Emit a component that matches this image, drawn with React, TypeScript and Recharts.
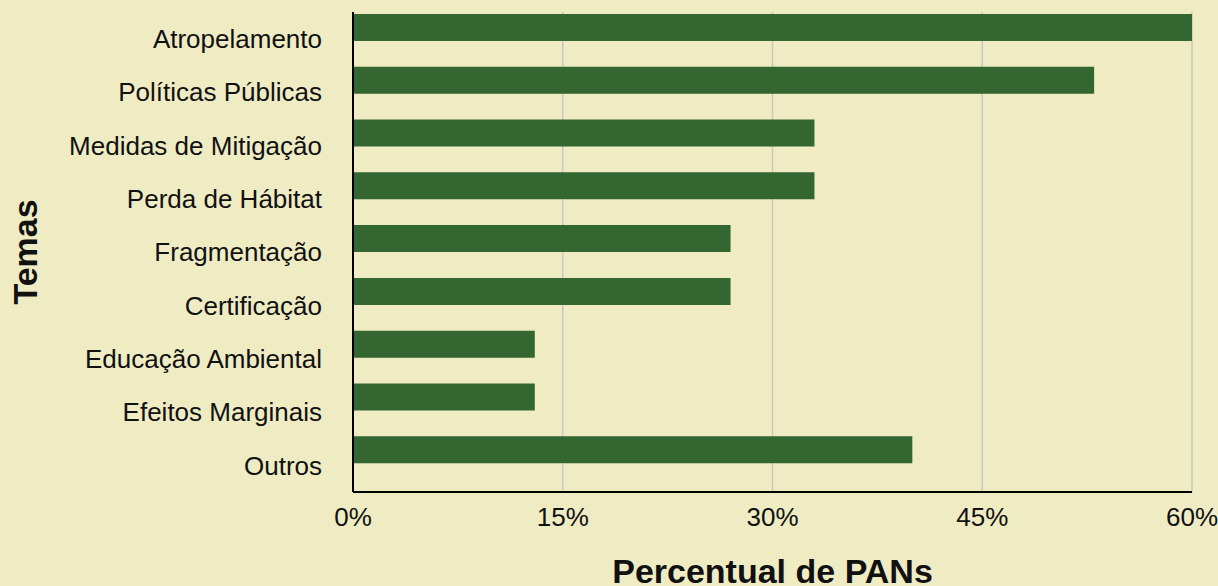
import React from 'react';
import { BarChart, Bar, XAxis, YAxis, CartesianGrid } from 'recharts';

const temas = [
  'Atropelamento',
  'Políticas Públicas',
  'Medidas de Mitigação',
  'Perda de Hábitat',
  'Fragmentação',
  'Certificação',
  'Educação Ambiental',
  'Efeitos Marginais',
  'Outros',
];
const percentuais = [60, 53, 33, 33, 27, 27, 13, 13, 40];
const xTicks = [0, 15, 30, 45, 60];

const data = temas.map((tema, i) => ({ tema, valor: percentuais[i] }));

const FONT = '"Liberation Sans", Arial, Helvetica, sans-serif';
const BG = '#efecc4';
const BAR = '#336630';

export default function App() {
  return (
    <div style={{ position: 'absolute', left: 0, top: 0, width: 1218, height: 586, background: BG, fontFamily: FONT }}>
      <BarChart
        width={1218}
        height={586}
        data={data}
        layout="vertical"
        margin={{ top: 12, right: 26, bottom: 0, left: 0 }}
      >
        <CartesianGrid horizontal={false} stroke="#c9c8bc" strokeWidth={1.5} yAxisId="labels" />
        <XAxis
          type="number"
          domain={[0, 60]}
          ticks={xTicks}
          tickFormatter={(v: number) => `${v}%`}
          height={94}
          tickLine={false}
          tickSize={0}
          tickMargin={16}
          axisLine={{ stroke: '#000', strokeWidth: 2 }}
          tick={{ fill: '#111', fontSize: 26, fontFamily: FONT }}
          label={{
            value: 'Percentual de PANs',
            position: 'insideBottom',
            offset: 3,
            style: { fill: '#111', fontSize: 34, fontWeight: 'bold', fontFamily: FONT },
          }}
        />
        <YAxis
          yAxisId="labels"
          type="category"
          dataKey="tema"
          width={353}
          tickLine={false}
          tickSize={0}
          tickMargin={31}
          interval={0}
          axisLine={{ stroke: '#000', strokeWidth: 2 }}
          tick={{ fill: '#111', fontSize: 26, fontFamily: FONT }}
          label={{
            value: 'Temas',
            angle: -90,
            position: 'insideLeft',
            offset: 25,
            style: { textAnchor: 'middle', fill: '#111', fontSize: 34, fontWeight: 'bold', fontFamily: FONT },
          }}
        />
        <YAxis
          yAxisId="bars"
          type="category"
          dataKey="tema"
          hide
          width={0}
          padding={{ top: -11, bottom: 16 }}
        />
        <Bar dataKey="valor" yAxisId="bars" barSize={27} fill={BAR} isAnimationActive={false} />
      </BarChart>
    </div>
  );
}
